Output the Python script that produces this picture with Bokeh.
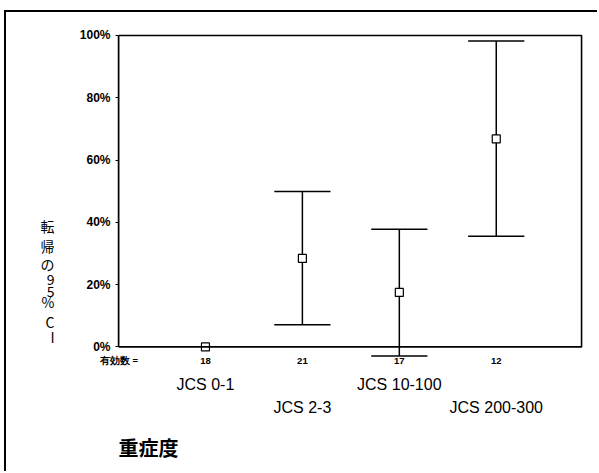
from bokeh.plotting import figure
from bokeh.models import Range1d, FixedTicker, BoxAnnotation, ColumnDataSource, LinearAxis, Title
from bokeh.embed import file_html
from bokeh.resources import INLINE

# ---- data ----
categories = ["JCS 0-1", "JCS 2-3", "JCS 10-100", "JCS 200-300"]
counts = ["18", "21", "17", "12"]
count_caption = "有効数 ="
mean_pct = [0.0, 28.4, 17.5, 66.8]
lower_pct = [0.0, 7.1, -2.9, 35.5]
upper_pct = [0.0, 49.9, 37.8, 98.2]
y_ticks = [0, 20, 40, 60, 80, 100]
y_tick_labels = ["0%", "20%", "40%", "60%", "80%", "100%"]
y_title_chars = ["転", "帰", "の", "9", "5", "%", "C", "I"]   # "転帰の95% CI", written vertically
x_title = "重症度"

# layout: where each character of the vertical title sits (in axis units)
y_title_pos = [38.9, 32.5, 26.6, 21.9, 18.1, 14.3, 8.0, 3.2]

xpos = list(range(1, len(categories) + 1))
cap = 0.29
X0, X1 = 0.103, 4.88

half = [cap if h > l else 0.0 for l, h in zip(lower_pct, upper_pct)]
src = ColumnDataSource(dict(
    x=xpos, mean=mean_pct, lo=lower_pct, hi=upper_pct,
    xl=[v - c for v, c in zip(xpos, half)], xr=[v + c for v, c in zip(xpos, half)],
))

LAT = "Liberation Sans"
CJK = "Noto Sans CJK JP"

p = figure(width=593, height=461,
           x_range=Range1d(X0, 4.90), y_range=Range1d(-3.4, 100.64),
           output_backend="svg", toolbar_location=None,
           min_border_left=112, min_border_right=16,
           min_border_top=21, min_border_bottom=116)
p.grid.visible = False
p.outline_line_color = None
p.background_fill_color = "white"
p.border_fill_color = "white"
p.margin = (10, 0, 0, 4)
p.styles = {"border-left": "2px solid black", "border-top": "2px solid black"}

# frame box 0..100%
p.add_layout(BoxAnnotation(left=X0, right=X1, bottom=0, top=100,
                           fill_alpha=0, line_color="black", line_alpha=1, line_width=1.6))

# error bars
p.segment(x0="x", y0="lo", x1="x", y1="hi", source=src, line_color="black", line_width=1.5)
p.segment(x0="xl", y0="lo", x1="xr", y1="lo", source=src, line_color="black", line_width=1.5)
p.segment(x0="xl", y0="hi", x1="xr", y1="hi", source=src, line_color="black", line_width=1.5)
p.scatter(x="x", y="mean", source=src, marker="square", size=8,
          fill_color="white", line_color="black", line_width=1.2)

# y axis
ya = p.yaxis[0]
ya.ticker = FixedTicker(ticks=y_ticks)
ya.major_label_overrides = {t: l for t, l in zip(y_ticks, y_tick_labels)}
ya.bounds = (0, 100)
ya.minor_tick_line_color = None
ya.major_tick_in = 0
ya.major_tick_out = 3
ya.major_label_standoff = 5
ya.axis_line_width = 1.5
ya.major_label_text_font = LAT
ya.major_label_text_font_style = "bold"
ya.major_label_text_font_size = "12px"
ya.major_label_text_color = "black"

# vertical y title: one character per label of a bare axis
yt = LinearAxis(ticker=FixedTicker(ticks=y_title_pos),
                major_label_overrides={t: c for t, c in zip(y_title_pos, y_title_chars)},
                axis_line_color=None, major_tick_line_color=None, minor_tick_line_color=None,
                major_label_standoff=16,
                major_label_text_font=CJK, major_label_text_font_size="14px",
                major_label_text_color="black")
p.add_layout(yt, "left")

# x axis: counts row (caption sits at the left frame edge)
cap_x = X0 + 0.005
xa = p.xaxis[0]
xa.ticker = FixedTicker(ticks=[cap_x] + xpos)
ov = {cap_x: count_caption}
ov.update({x: c for x, c in zip(xpos, counts)})
xa.major_label_overrides = ov
xa.axis_line_color = None
xa.major_tick_line_color = None
xa.minor_tick_line_color = None
xa.major_label_standoff = -9
xa.major_label_text_font = LAT
xa.major_label_text_font_style = "bold"
xa.major_label_text_font_size = "9.5px"
xa.major_label_text_color = "black"


def name_axis(ticks, standoff):
    ax = LinearAxis(ticker=FixedTicker(ticks=ticks),
                    major_label_overrides={t: categories[t - 1] for t in ticks},
                    axis_line_color=None, major_tick_line_color=None,
                    minor_tick_line_color=None, major_label_standoff=standoff,
                    major_label_text_font=LAT, major_label_text_font_size="16px",
                    major_label_text_color="black")
    p.add_layout(ax, "below")
    return ax


row1 = name_axis([1, 3], 1)
row2 = name_axis([2, 4], -3)

p.add_layout(Title(text=x_title, align="left", offset=0, standoff=24,
                   text_font=CJK, text_font_style="bold", text_font_size="20px",
                   text_color="black"), "below")

open("out.html", "w").write(file_html(p, INLINE))
